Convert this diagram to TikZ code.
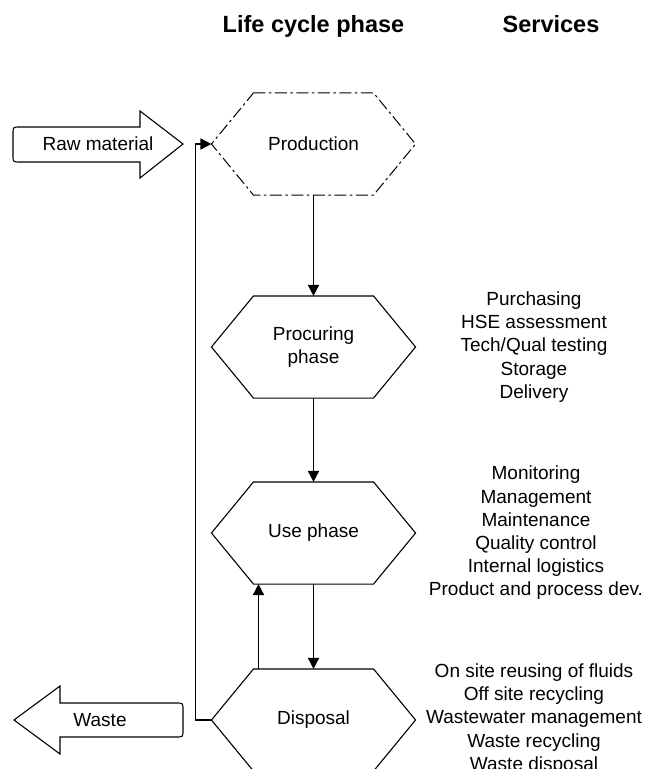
\documentclass[tikz,border=0pt]{standalone}
\usepackage{fontspec}
\setmainfont{Liberation Sans}
\usetikzlibrary{arrows.meta}

% hexagon outline around a rectangular node of the same extent
\newcommand\hexoutline[2][]{%
  \draw[#1] ([xshift=42pt]#2.north west) -- ([xshift=-42pt]#2.north east)
    -- (#2.east) -- ([xshift=-42pt]#2.south east)
    -- ([xshift=42pt]#2.south west) -- (#2.west) -- cycle;}

\begin{document}
\begin{tikzpicture}[x=1pt,y=-1pt,line width=1.1pt,
  phase/.style={minimum width=203pt,minimum height=101pt,inner sep=0pt,
    align=center,font=\fontsize{19}{23}\selectfont},
  svc/.style={align=center,inner sep=0pt,font=\fontsize{19}{23.2}\selectfont},
  lbl/.style={inner sep=0pt,font=\fontsize{19}{23}\selectfont},
  hdr/.style={anchor=base,inner sep=0pt,font=\bfseries\fontsize{23.5}{28}\selectfont},
  flow/.style={line width=1.5pt,-{Triangle[length=11pt,width=11pt]}},
  dashdot/.style={line width=1pt,dash pattern=on 12pt off 3.5pt on 2.5pt off 3.5pt}]

\useasboundingbox (0,0) rectangle (646,769);
\clip (0,0) rectangle (646,769);

% column headings
\node[hdr] (hphase) at (313.5,32) {Life cycle phase};
\node[hdr] (hserv) at (551,32) {Services};

% life cycle phases
\node[phase] (prod) at (313.5,144) {Production};
\node[phase] (proc) at (313.5,347) {Procuring\\phase};
\node[phase] (use)  at (313.5,533) {Use phase};
\node[phase] (disp) at (313.5,720) {Disposal};
\hexoutline[dashdot]{prod}
\hexoutline{proc}
\hexoutline{use}
\hexoutline{disp}

% services per phase
\node[svc] (sproc) at (534,347) {Purchasing\\HSE assessment\\Tech/Qual testing\\Storage\\Delivery};
\node[svc] (suse) at (536,533) {Monitoring\\Management\\Maintenance\\Quality control\\Internal logistics\\Product and process dev.};
\node[svc] (sdisp) at (534,719) {On site reusing of fluids\\Off site recycling\\Wastewater management\\Waste recycling\\Waste disposal};

% input and output block arrows
\draw (140,127) -- (140,111) -- (183,144) -- (140,178) -- (140,162)
  -- (20,162) .. controls (13,162) .. (13,155) -- (13,134)
  .. controls (13,127) .. (20,127) -- cycle;
\node[lbl] (raw) at (98,144) {Raw material};

\draw (60,703) -- (60,686) -- (14,720) -- (60,754) -- (60,737)
  -- (176,737) .. controls (183,737) .. (183,730) -- (183,710)
  .. controls (183,703) .. (176,703) -- cycle;
\node[lbl] (waste) at (100,720) {Waste};

% flow between phases
\draw[flow] (prod.south) -- (proc.north);
\draw[flow] (proc.south) -- (use.north);
\draw[flow] (use.south) -- (disp.north);
\draw[flow] ([xshift=-55pt]disp.north) -- ([xshift=-55pt]use.south);
\draw[flow] (disp.west) -- ++(-16,0) |- (prod.west);

\end{tikzpicture}
\end{document}
